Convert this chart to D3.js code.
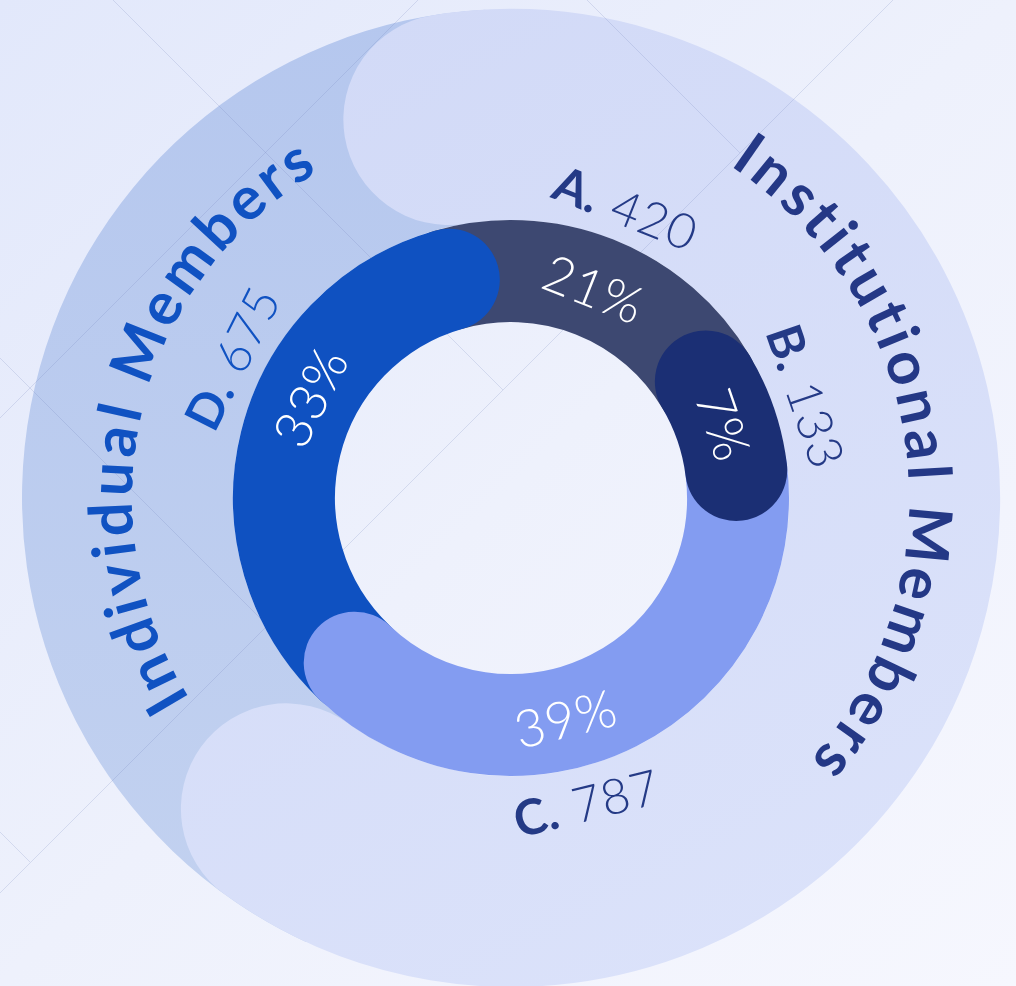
<!DOCTYPE html>
<html>
<head>
<meta charset="utf-8">
<title>Members</title>
<script src="https://cdn.jsdelivr.net/npm/d3@7"></script>
<style>
    html, body { margin: 0; padding: 0; overflow: hidden; background: #eef1fc; }
    svg { display: block; }
    text { font-family: Lato, "Open Sans", sans-serif; }
</style>
</head>
<body>
<script>
//wrap everything in a self-executing anonymous function to move to local scope
(function () {

    //chart data
    var categories = ["A", "B", "C", "D"];
    var memberCounts = [420, 133, 787, 675];
    var groupNames = ["Institutional Members", "Individual Members"];
    var categoryGroup = [0, 0, 0, 1]; //index into groupNames for each category

    //colours
    var segColors = ["#3d4871", "#1b2f74", "#839cf1", "#0f51c1"];
    var labelColors = ["#243a86", "#243a86", "#243a86", "#1052c2"];
    var groupTextColors = ["#243886", "#1052c2"];

    //geometry
    var width = 1016,
        height = 986;
    var cx = 511, cy = 498;
    var rIn = 176, rOut = 278;
    var rMid = (rIn + rOut) / 2, thick = rOut - rIn;
    var bandIn = 278, bandOut = 489;
    var bandMid = (bandIn + bandOut) / 2, bandThick = bandOut - bandIn;
    var rad = Math.PI / 180;
    var offset = -3 * rad; //rotation of the whole ring
    var drawRank = [0, 3, 2, 1]; //A at the bottom, then D, C, B on top
    var groupLabelAngles = [82.6, 284]; //degrees, centre of the curved titles
    var groupLabelRadius = [398, 379];

    //begin script when window loads
    window.onload = setChart();

    function setChart(){

        var svg = d3.select("body")
            .append("svg")
            .attr("width", width)
            .attr("height", height);

        var defs = svg.append("defs");
        addGradients(defs);

        svg.append("rect")
            .attr("width", width)
            .attr("height", height)
            .attr("fill", "url(#bgGrad)");

        var g = svg.append("g")
            .attr("transform", "translate(" + cx + "," + cy + ")");

        //group totals for the outer band
        var groupTotals = groupNames.map(function (name, gi) {
            return d3.sum(memberCounts.filter(function (v, i) { return categoryGroup[i] == gi; }));
        });

        var pie = d3.pie()
            .sort(null)
            .startAngle(offset)
            .endAngle(offset + 2 * Math.PI);

        setBands(g, pie(groupTotals));
        setGrid(svg);
        var labelLayer = svg.append("g")
            .attr("transform", "translate(" + cx + "," + cy + ")");
        var segs = setDonut(labelLayer, pie(memberCounts));
        setLabels(labelLayer, segs);
        setGroupTitles(labelLayer, defs);
    };

    function addGradients(defs){
        var bg = defs.append("linearGradient")
            .attr("id", "bgGrad")
            .attr("x1", 0).attr("y1", 0).attr("x2", 1).attr("y2", 1);
        bg.append("stop").attr("offset", 0).attr("stop-color", "#e2e8fb");
        bg.append("stop").attr("offset", 0.5).attr("stop-color", "#eef1fc");
        bg.append("stop").attr("offset", 1).attr("stop-color", "#f6f7fe");

        var light = defs.append("linearGradient")
            .attr("id", "lightGrad")
            .attr("gradientUnits", "userSpaceOnUse")
            .attr("x1", -200).attr("y1", -450).attr("x2", 300).attr("y2", 450);
        light.append("stop").attr("offset", 0).attr("stop-color", "#d2daf7");
        light.append("stop").attr("offset", 1).attr("stop-color", "#dbe2fa");

        var dark = defs.append("linearGradient")
            .attr("id", "darkGrad")
            .attr("gradientUnits", "userSpaceOnUse")
            .attr("x1", 0).attr("y1", -490).attr("x2", 0).attr("y2", 490);
        dark.append("stop").attr("offset", 0).attr("stop-color", "#b5c7ee");
        dark.append("stop").attr("offset", 1).attr("stop-color", "#c3d2f0");
    }

    //clockwise circular path, angles measured from 12 o'clock
    function arcPath(a0, a1, r){
        var p = d3.path();
        p.arc(0, 0, r, a0 - Math.PI / 2, a1 - Math.PI / 2);
        return p.toString();
    }

    function polar(a, r){
        return [r * Math.sin(a), -r * Math.cos(a)];
    }

    function setBands(g, groupArcs){
        var bandCap = 2 * Math.asin(bandThick / 2 / (2 * bandMid));
        var inst = groupArcs[0], indiv = groupArcs[1];

        //individual band sits underneath
        g.append("path")
            .attr("class", "band individual")
            .attr("d", d3.arc()
                .innerRadius(bandIn)
                .outerRadius(bandOut)
                .startAngle(indiv.startAngle - 2 * bandCap)
                .endAngle(indiv.endAngle))
            .attr("fill", "url(#darkGrad)");

        //institutional band with rounded ends on top
        g.append("path")
            .attr("class", "band institutional")
            .attr("d", arcPath(inst.startAngle - 0.4 * bandCap, inst.endAngle - 1.3 * bandCap, bandMid))
            .attr("fill", "none")
            .attr("stroke", "url(#lightGrad)")
            .attr("stroke-width", bandThick)
            .attr("stroke-linecap", "round");
    }

    function setGrid(svg){
        //faint diagonal guide lines behind the ring
        var lines = [
            [0, 418, 418, 0],
            [0, 893, 893, 0],
            [587, 0, 740, 153],
            [113, 0, 503, 390],
            [0, 358, 267, 625],
            [0, 832, 30, 862]
        ];
        svg.selectAll(".gridLine")
            .data(lines)
            .enter()
            .append("line")
            .attr("class", "gridLine")
            .attr("x1", function (d) { return d[0]; })
            .attr("y1", function (d) { return d[1]; })
            .attr("x2", function (d) { return d[2]; })
            .attr("y2", function (d) { return d[3]; })
            .attr("stroke", "#6f7fb8")
            .attr("stroke-opacity", 0.2)
            .attr("stroke-width", 1);
    }

    function setDonut(g, arcs){
        var cap = 2 * Math.asin(thick / 2 / (2 * rMid));
        var n = arcs.length;
        var total = d3.sum(memberCounts);

        var segs = arcs.map(function (a, i) {
            var prev = (i + n - 1) % n, next = (i + 1) % n;
            var visStart = drawRank[i] > drawRank[prev] ? a.startAngle - 2 * cap : a.startAngle;
            var visEnd = drawRank[next] > drawRank[i] ? arcs[next].startAngle - 2 * cap : a.endAngle;
            return {
                index: i,
                key: categories[i],
                value: a.value,
                pct: Math.round(a.value / total * 100) + "%",
                start: a.startAngle,
                end: a.endAngle,
                mid: (visStart + visEnd) / 2
            };
        });

        var ordered = segs.slice().sort(function (a, b) { return drawRank[a.index] - drawRank[b.index]; });

        g.selectAll(".segment")
            .data(ordered)
            .enter()
            .append("path")
            .attr("class", function (d) { return "segment " + d.key; })
            .attr("d", function (d) { return arcPath(d.start - cap, d.end - cap, rMid); })
            .attr("fill", "none")
            .attr("stroke", function (d) { return segColors[d.index]; })
            .attr("stroke-width", thick)
            .attr("stroke-linecap", "round");

        return segs;
    }

    function textRotation(deg){
        deg = ((deg % 360) + 360) % 360;
        if (deg > 90 && deg < 270) return deg - 180;
        if (deg >= 270) return deg - 360;
        return deg;
    }

    function setLabels(g, segs){
        //percentages inside the ring
        g.selectAll(".pct")
            .data(segs)
            .enter()
            .append("text")
            .attr("class", "pct")
            .attr("transform", function (d) {
                var p = polar(d.mid, 226);
                return "translate(" + p[0] + "," + p[1] + ") rotate(" + textRotation(d.mid / rad) + ")";
            })
            .attr("text-anchor", "middle")
            .attr("dominant-baseline", "central")
            .attr("font-size", 52)
            .attr("font-weight", 300)
            .attr("letter-spacing", 1)
            .attr("fill", "#ffffff")
            .text(function (d) { return d.pct; });

        //category and count outside the ring
        var lab = g.selectAll(".catLabel")
            .data(segs)
            .enter()
            .append("text")
            .attr("class", "catLabel")
            .attr("transform", function (d) {
                var p = polar(d.mid, 313);
                return "translate(" + p[0] + "," + p[1] + ") rotate(" + textRotation(d.mid / rad) + ")";
            })
            .attr("text-anchor", "middle")
            .attr("dominant-baseline", "central")
            .attr("font-size", 49)
            .attr("fill", function (d) { return labelColors[d.index]; });

        lab.append("tspan")
            .attr("font-weight", 700)
            .text(function (d) { return d.key + "."; });

        lab.append("tspan")
            .attr("font-weight", 300)
            .attr("dx", 16)
            .attr("letter-spacing", 1)
            .text(function (d) { return d.value; });
    }

    function setGroupTitles(g, defs){
        groupNames.forEach(function (name, gi) {
            var mid = groupLabelAngles[gi] * rad;
            defs.append("path")
                .attr("id", "groupPath" + gi)
                .attr("d", arcPath(mid - 100 * rad, mid + 100 * rad, groupLabelRadius[gi]));

            g.append("text")
                .attr("class", "groupTitle")
                .attr("font-size", 60)
                .attr("font-weight", 700)
                .attr("letter-spacing", 4.5)
                .attr("fill", groupTextColors[gi])
                .append("textPath")
                .attr("href", "#groupPath" + gi)
                .attr("startOffset", "50%")
                .attr("text-anchor", "middle")
                .text(name);
        });
    }

})();
</script>
</body>
</html>
